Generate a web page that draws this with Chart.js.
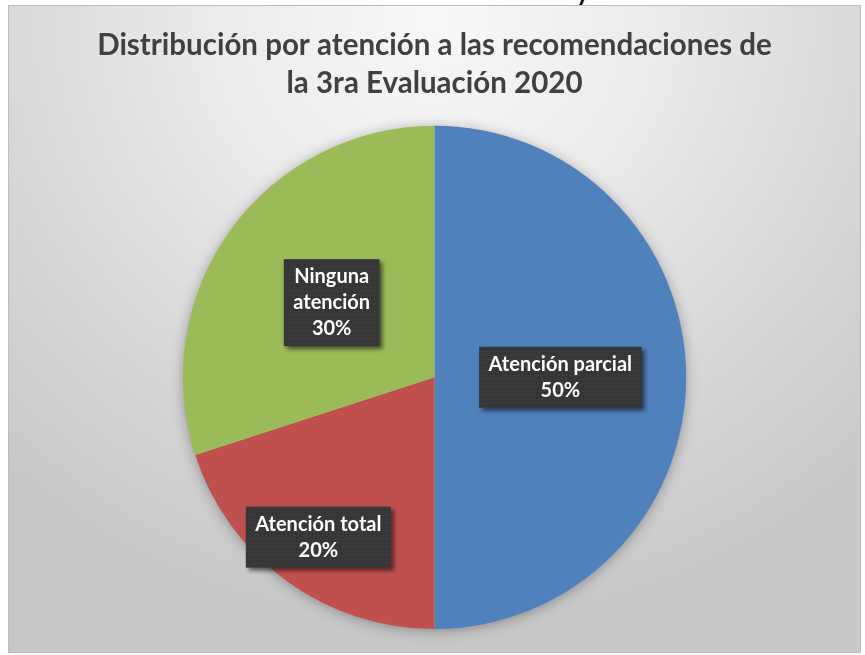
<!DOCTYPE html>
<html>
<head>
<meta charset="utf-8">
<script src="https://cdn.jsdelivr.net/npm/chart.js@4.4.1/dist/chart.umd.min.js"></script>
<style>
  html, body { margin: 0; padding: 0; background: #ffffff; width: 865px; height: 655px; overflow: hidden; position: relative; }
  #frame {
    position: absolute; left: 8px; top: 5px; width: 851px; height: 646px;
    border: 1px solid #bdbdbd;
    background: radial-gradient(ellipse 75% 95% at 50% 2%, #f8f8f8 0%, #ebebeb 35%, #d4d4d4 75%, #c8c8c8 100%);
  }
  #cv { position: absolute; left: 0; top: 0; }
  #topy { position: absolute; left: 576px; top: -19px; font: bold 24px Lato, sans-serif; line-height: 24px; color: #000; }
</style>
</head>
<body>
<span id="topy">y</span>
<div id="frame"><canvas id="cv" width="851" height="646"></canvas></div>
<script>
const titleLines = ["Distribución por atención a las recomendaciones de", "la 3ra Evaluación 2020"];
const categories = ["Atención parcial", "Atención total", "Ninguna atención"];
const labelLines = [["Atención parcial", "50%"], ["Atención total", "20%"], ["Ninguna", "atención", "30%"]];
const values = [50, 20, 30];
const colors = ["#4F81BD", "#C0504D", "#9BBB59"];
const labelRadiusFactor = [0.5, 0.785, 0.505];

function makePattern(ctx) {
  const t = document.createElement('canvas');
  t.width = 4; t.height = 4;
  const c = t.getContext('2d');
  c.fillStyle = '#363636'; c.fillRect(0, 0, 4, 4);
  c.fillStyle = '#474747'; c.fillRect(1, 1, 1, 1);
  return ctx.createPattern(t, 'repeat');
}

const shadowPlugin = {
  id: 'pieShadow',
  beforeDatasetsDraw(chart) {
    const meta = chart.getDatasetMeta(0);
    const a = meta.data[0];
    if (!a) return;
    const ctx = chart.ctx;
    ctx.save();
    ctx.shadowColor = 'rgba(0,0,0,0.35)';
    ctx.shadowBlur = 14;
    ctx.shadowOffsetX = 0; ctx.shadowOffsetY = 2;
    ctx.fillStyle = '#bbbbbb';
    ctx.beginPath();
    ctx.arc(a.x, a.y, a.outerRadius - 1, 0, Math.PI * 2);
    ctx.fill();
    ctx.restore();
  }
};

const labelPlugin = {
  id: 'boxLabels',
  afterDatasetsDraw(chart) {
    const ctx = chart.ctx;
    const meta = chart.getDatasetMeta(0);
    const pattern = makePattern(ctx);
    meta.data.forEach((arc, i) => {
      const mid = (arc.startAngle + arc.endAngle) / 2;
      const r = arc.outerRadius * labelRadiusFactor[i];
      const cx = arc.x + Math.cos(mid) * r;
      const cy = arc.y + Math.sin(mid) * r;
      const lines = labelLines[i];
      ctx.save();
      ctx.font = 'bold 20px Lato, sans-serif';
      const lh = 26;
      let w = 0;
      lines.forEach(l => { w = Math.max(w, ctx.measureText(l).width); });
      const bw = w + 19, bh = lines.length * lh + 9;
      const bx = cx - bw / 2, by = cy - bh / 2;
      ctx.shadowColor = 'rgba(0,0,0,0.55)';
      ctx.shadowBlur = 4; ctx.shadowOffsetX = 3; ctx.shadowOffsetY = 3;
      ctx.fillStyle = pattern;
      ctx.fillRect(bx, by, bw, bh);
      ctx.shadowColor = 'transparent';
      ctx.fillStyle = '#ffffff';
      ctx.textAlign = 'center';
      ctx.textBaseline = 'middle';
      lines.forEach((l, k) => {
        ctx.fillText(l, cx, by + 4.5 + lh * (k + 0.5));
      });
      ctx.restore();
    });
  }
};

new Chart(document.getElementById('cv'), {
  type: 'pie',
  data: {
    labels: categories,
    datasets: [{ data: values, backgroundColor: colors, borderWidth: 0, hoverOffset: 0 }]
  },
  options: {
    responsive: false,
    animation: false,
    layout: { padding: { left: 0, right: 0, top: 0, bottom: 23 } },
    plugins: {
      legend: { display: false },
      tooltip: { enabled: false },
      title: {
        display: true,
        text: titleLines,
        color: '#404040',
        font: { family: 'Lato, sans-serif', size: 29.5, weight: 'bold', lineHeight: 1.3 },
        padding: { top: 20, bottom: 23 }
      }
    }
  },
  plugins: [shadowPlugin, labelPlugin]
});
</script>
</body>
</html>
